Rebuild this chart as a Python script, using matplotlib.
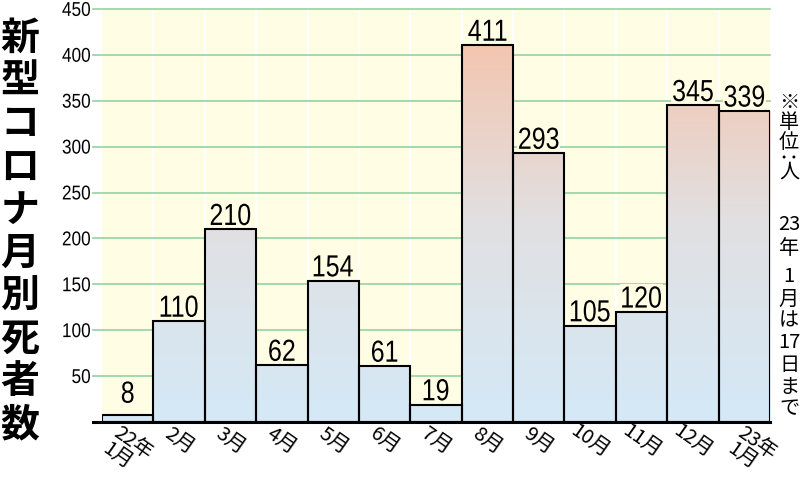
import numpy as np
import matplotlib
matplotlib.use("Agg")
import matplotlib.pyplot as plt
from matplotlib.colors import LinearSegmentedColormap
from matplotlib.font_manager import FontProperties
from matplotlib.textpath import TextPath
from matplotlib.patches import PathPatch, Rectangle
from matplotlib.transforms import Affine2D, IdentityTransform

months = ["22年\n1月", "2月", "3月", "4月", "5月", "6月", "7月",
          "8月", "9月", "10月", "11月", "12月", "23年\n1月"]
deaths = [8, 110, 210, 62, 154, 61, 19, 411, 293, 105, 120, 345, 339]
yticks = [50, 100, 150, 200, 250, 300, 350, 400, 450]
title = "新型コロナ月別死者数"
note = ["※", "単", "位", "：", "人", "23", "年", "1", "月", "は", "17", "日", "ま", "で"]

JP = "Noto Sans CJK JP"
NUM = FontProperties(family="Liberation Sans")
JPF = FontProperties(family=JP)

PANEL = "#FFFDE4"
GRID = "#9DD6A6"

W, H = 800, 479
fig = plt.figure(figsize=(8, 4.79), dpi=100)
ax = fig.add_axes([102 / W, 57 / H, 668 / W, 413 / H])
ax.set_facecolor(PANEL)
ax.set_xlim(-0.5, len(deaths) - 0.5)
ax.set_ylim(0, 450)
for s in ax.spines.values():
    s.set_visible(False)
ax.set_xticks([])
ax.set_yticks([])


def path_text(px, py, s, size, sx=1.0, ha="center", va="bottom", prop=NUM,
              bg=None, rot=0, z=6):
    # text drawn as a path so it can be squeezed to look like a condensed face
    path = TextPath((0, 0), s, size=size, prop=prop)
    e = path.get_extents()
    if ha == "center":
        dx = -(e.x0 + e.x1) / 2 * sx
    elif ha == "right":
        dx = -e.x1 * sx
    else:
        dx = -e.x0 * sx
    dy = -e.y0 if va == "bottom" else -(e.y0 + e.y1) / 2
    if rot:
        cx, cy = (e.x0 + e.x1) / 2, (e.y0 + e.y1) / 2
        t = Affine2D().translate(-cx, -cy).rotate_deg(rot).translate(px, py)
    else:
        t = Affine2D().scale(sx, 1).translate(px + dx, py + dy)
    if bg is not None:
        pad = 2
        fig.add_artist(Rectangle((px + dx + e.x0 * sx - pad, py + dy + e.y0 - pad),
                                 e.width * sx + 2 * pad, e.height + 2 * pad,
                                 transform=IdentityTransform(), fc=bg, ec="none",
                                 zorder=z - 0.5))
    fig.add_artist(PathPatch(path, transform=t, fc="black", ec="none", lw=0,
                             zorder=z))


ext = -9 / 668
for y in yticks:
    ax.axhline(y, xmin=ext, xmax=1, color=GRID, lw=1.3, zorder=1, clip_on=False)
for k in range(len(deaths) - 1):
    ax.axvline(k + 0.5, color="white", lw=1.5, zorder=0.8)

cmap = LinearSegmentedColormap.from_list(
    "bars", [(0, "#D4E9F7"), (0.48, "#E1E0E2"), (0.93, "#F4C5AE"), (1, "#F5C0A5")])
grad = np.linspace(0, 1, 256).reshape(-1, 1)

x = np.arange(len(deaths))
bars = ax.bar(x, deaths, width=1, facecolor="none", edgecolor="black",
              lw=1.5, zorder=3)
for i, b in enumerate(bars):
    im = ax.imshow(grad, cmap=cmap, origin="lower", aspect="auto",
                   extent=(i - 0.5, i + 0.5, 0, 450), zorder=2)
    im.set_clip_path(b)
ax.set_xlim(-0.5, len(deaths) - 0.5)
ax.set_ylim(0, 450)

ax.axhline(0, xmin=ext, xmax=1, color="black", lw=2.2, zorder=5, clip_on=False)

_, base = ax.transData.transform((0, 0))
for i, v in enumerate(deaths):
    px, py = ax.transData.transform((i, v))
    path_text(px, max(py + 4, base + 19), str(v), 30.5, sx=0.82, bg=PANEL)

left_px = ax.transData.transform((-0.5, 0))[0]
for v in yticks:
    _, py = ax.transData.transform((0, v))
    path_text(left_px - 12, py, str(v), 20, sx=0.86, ha="right", va="center")

tr = ax.get_xaxis_transform()
for i, lab in enumerate(months):
    off = -29 if "\n" in lab else -19
    ax.text(i + (0.15 if i == len(months) - 1 else 0), off / 413, lab,
            transform=tr, rotation=-35, ha="center", va="center",
            multialignment="left", fontsize=14.5,
            family=[JP, "DejaVu Sans"], linespacing=0.85, clip_on=False)

for j, ch in enumerate(title):
    fig.text(20 / W, 1 - (38 + 43 * j) / H, ch, ha="center", va="center",
             fontsize=28, fontweight="bold", family=[JP, "DejaVu Sans"])

note_y = [103, 122, 142, 157, 172, 225, 249, 277, 299, 321, 343, 365, 387, 409]
for ch, yy in zip(note, note_y):
    if ch == "：":
        path_text(789, H - yy, ch, 20, prop=JPF, rot=90)
    else:
        fig.text(789 / W, 1 - yy / H, ch, ha="center", va="center",
                 fontsize=14.5, family=[JP, "DejaVu Sans"])

fig.savefig("out.png", dpi=100)
